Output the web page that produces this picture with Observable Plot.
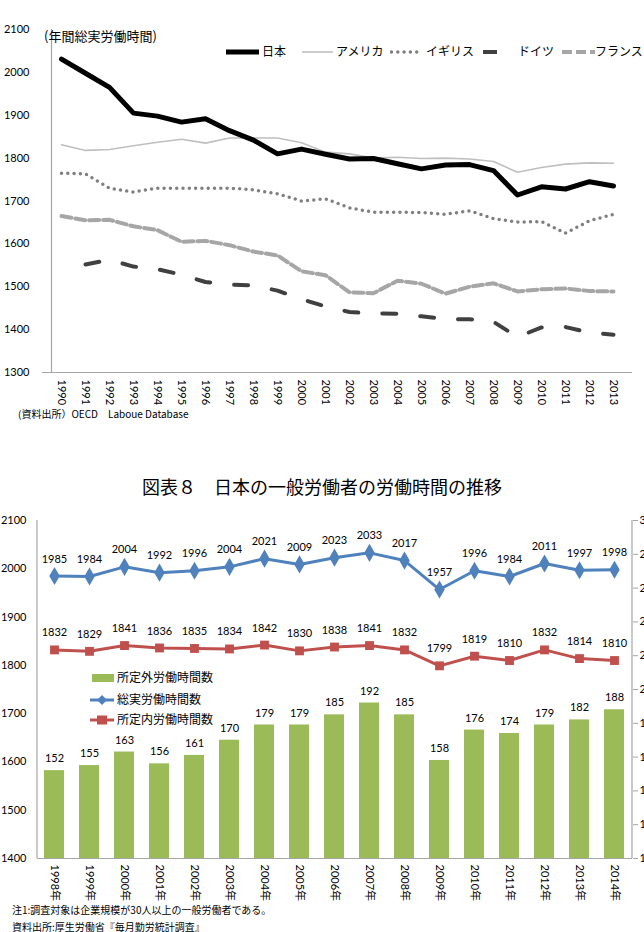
<!DOCTYPE html>
<html><head><meta charset="utf-8">
<script src="https://cdn.jsdelivr.net/npm/d3@7"></script>
<script src="https://cdn.jsdelivr.net/npm/@observablehq/plot@0.6"></script>
<style>
html,body{margin:0;padding:0;background:#fff;}
body{width:644px;height:932px;overflow:hidden;position:relative;font-family:"Noto Sans CJK JP","Noto Sans",sans-serif;color:#000;}
.abs{position:absolute;white-space:nowrap;line-height:1;}
.abs svg{display:block;}
</style></head><body>
<div id="chart1" class="abs" style="left:0;top:0"></div>
<div id="chart2" class="abs" style="left:0;top:500px"></div>
<div id="overlay"></div>
<script>
// ---------- Chart 1 data (OECD annual hours) ----------
const years1 = [1990,1991,1992,1993,1994,1995,1996,1997,1998,1999,2000,2001,2002,2003,2004,2005,2006,2007,2008,2009,2010,2011,2012,2013];
const japan   = [2031,1998,1965,1905,1898,1884,1892,1864,1842,1810,1821,1809,1798,1799,1787,1775,1784,1785,1771,1714,1733,1728,1745,1735];
const usa     = [1831,1818,1820,1829,1837,1844,1835,1847,1847,1847,1836,1814,1810,1800,1802,1799,1800,1798,1792,1767,1778,1786,1789,1788];
const uk      = [1765,1763,1730,1721,1730,1730,1730,1730,1726,1717,1700,1705,1684,1674,1674,1673,1669,1677,1659,1651,1652,1625,1654,1669];
const germany = [null,1552,1563,1547,1541,1528,1511,1505,1503,1491,1471,1454,1441,1438,1437,1431,1425,1424,1418,1383,1405,1406,1393,1388];
const france  = [1665,1655,1656,1641,1632,1605,1607,1597,1582,1573,1536,1527,1487,1485,1514,1507,1484,1500,1508,1489,1494,1496,1490,1489];
const yTicks1 = [1300,1400,1500,1600,1700,1800,1900,2000,2100];
const countryNames = ["日本","アメリカ","イギリス","ドイツ","フランス"];

// ---------- Chart 2 data (Japan, general workers) ----------
const cats2 = ["1998年","1999年","2000年","2001年","2002年","2003年","2004年","2005年","2006年","2007年","2008年","2009年","2010年","2011年","2012年","2013年","2014年"];
const overtime  = [152,155,163,156,161,170,179,179,185,192,185,158,176,174,179,182,188];
const total     = [1985,1984,2004,1992,1996,2004,2021,2009,2023,2033,2017,1957,1996,1984,2011,1997,1998];
const scheduled = [1832,1829,1841,1836,1835,1834,1842,1830,1838,1841,1832,1799,1819,1810,1832,1814,1810];
const leftTicks2  = [1400,1500,1600,1700,1800,1900,2000,2100];
const rightTicks2 = [100,120,140,160,180,200,220,240,260,280,300];
const seriesNames2 = ["所定外労働時間数","総実労働時間数","所定内労働時間数"];

const rows = vals => years1.map((year,i)=>({year, value: vals[i]})).filter(d => d.value != null);

const font = "Lato, 'Noto Sans CJK JP', sans-serif";

const c1 = Plot.plot({
  width: 644, height: 410,
  marginLeft: 42, marginRight: 12, marginTop: 29, marginBottom: 38,
  style: {fontFamily: font, fontSize: "11px", background: "transparent", overflow: "visible", color: "#000"},
  x: {type: "point", domain: years1, padding: 0.4},
  y: {domain: [1300, 2100]},
  marks: [
    Plot.ruleY([1300], {stroke: "#a6a6a6", strokeWidth: 1.2}),
    Plot.ruleX([years1[0]], {stroke: "#a6a6a6", strokeWidth: 1.2, dx: -10, y1: 1300, y2: 2100}),
    Plot.axisY({ticks: yTicks1, tickSize: 0, tickPadding: 13, label: null, tickFormat: d => String(d)}),
    Plot.axisX({tickRotate: 90, tickSize: 0, tickPadding: 7, label: null, tickFormat: d => String(d)}),
    Plot.line(rows(france),  {x: "year", y: "value", stroke: "#a6a6a6", strokeWidth: 4, strokeDasharray: "10,4"}),
    Plot.line(rows(germany), {x: "year", y: "value", stroke: "#404040", strokeWidth: 4, strokeDasharray: "14,24"}),
    Plot.line(rows(uk),      {x: "year", y: "value", stroke: "#7f7f7f", strokeWidth: 3.5, strokeDasharray: "0,6.3", strokeLinecap: "round"}),
    Plot.line(rows(usa),     {x: "year", y: "value", stroke: "#bfbfbf", strokeWidth: 1.6}),
    Plot.line(rows(japan),   {x: "year", y: "value", stroke: "#000", strokeWidth: 5, strokeLinejoin: "round"})
  ]
});
document.getElementById("chart1").appendChild(c1);

const toLeft = v => 1400 + (v - 100) * 700 / 200;
const data2 = cats2.map((cat,i)=>({cat, overtime: overtime[i], total: total[i], scheduled: scheduled[i]}));

const c2 = Plot.plot({
  width: 644, height: 408,
  marginLeft: 37, marginRight: 12, marginTop: 20, marginBottom: 50,
  style: {fontFamily: font, fontSize: "11px", background: "transparent", overflow: "visible", color: "#000"},
  x: {type: "band", domain: cats2, paddingInner: 0.42, paddingOuter: 0.21},
  y: {domain: [1400, 2100]},
  marks: [
    Plot.barY(data2, {x: "cat", y1: 1400, y2: d => toLeft(d.overtime), fill: "#9BBB59"}),
    Plot.ruleY([1400], {stroke: "#a6a6a6", strokeWidth: 1.2}),
    Plot.ruleX([cats2[0]], {stroke: "#a6a6a6", strokeWidth: 1.2, dx: -17.5, y1: 1400, y2: 2100}),
    Plot.ruleX([cats2[cats2.length - 1]], {stroke: "#a6a6a6", strokeWidth: 1.2, dx: 17.5, y1: 1400, y2: 2100}),
    Plot.axisY({ticks: leftTicks2, tickSize: 0, tickPadding: 11, label: null, tickFormat: d => String(d)}),
    Plot.axisY({anchor: "right", ticks: rightTicks2.map(toLeft), tickSize: 5, tickPadding: 2, label: null, stroke: "#a6a6a6", fill: "#000", tickFormat: (d,i) => String(rightTicks2[i])}),
    Plot.axisX({tickRotate: 90, tickSize: 0, tickPadding: 6, label: null}),
    Plot.text(data2, {x: "cat", y: d => toLeft(d.overtime), text: d => String(d.overtime), dy: -12, fill: "#000"}),
    Plot.line(data2, {x: "cat", y: "total", stroke: "#4F81BD", strokeWidth: 3}),
    Plot.dot(data2, {x: "cat", y: "total", symbol: "diamond", r: 5.5, fill: "#4F81BD"}),
    Plot.text(data2, {x: "cat", y: "total", text: d => String(d.total), dy: -17, fill: "#000"}),
    Plot.line(data2, {x: "cat", y: "scheduled", stroke: "#C0504D", strokeWidth: 3}),
    Plot.dot(data2, {x: "cat", y: "scheduled", symbol: "square", r: 5, fill: "#C0504D"}),
    Plot.text(data2, {x: "cat", y: "scheduled", text: d => String(d.scheduled), dy: -17, fill: "#000"})
  ]
});
document.getElementById("chart2").appendChild(c2);

// ---------- texts, legends ----------
const ov = document.getElementById("overlay");
function addText(txt, left, top, size, extra="") {
  const d = document.createElement("div");
  d.className = "abs";
  d.style.cssText = `left:${left}px;top:${top}px;font-size:${size}px;${extra}`;
  d.textContent = txt;
  ov.appendChild(d);
  return d;
}
function addSwatch(svgInner, left, top, w, h) {
  const d = document.createElement("div");
  d.className = "abs";
  d.style.cssText = `left:${left}px;top:${top}px;`;
  d.innerHTML = `<svg width="${w}" height="${h}" viewBox="0 0 ${w} ${h}">${svgInner}</svg>`;
  ov.appendChild(d);
}
// Chart 1 header and legend
addText("(年間総実労働時間)", 44, 29, 13);
const lg1 = [
  {x:226, txt:262, svg:'<line x1="0" y1="5" x2="33" y2="5" stroke="#000" stroke-width="5"/>'},
  {x:302, txt:336, svg:'<line x1="0" y1="5" x2="31" y2="5" stroke="#bfbfbf" stroke-width="1.6"/>'},
  {x:390, txt:426, svg:'<line x1="1.5" y1="5" x2="33" y2="5" stroke="#7f7f7f" stroke-width="3.5" stroke-dasharray="0,6.3" stroke-linecap="round"/>'},
  {x:483, txt:518, svg:'<line x1="0" y1="5" x2="33" y2="5" stroke="#404040" stroke-width="4" stroke-dasharray="14,24"/>'},
  {x:562, txt:595, svg:'<line x1="0" y1="5" x2="33" y2="5" stroke="#a6a6a6" stroke-width="4" stroke-dasharray="10,4"/>'}
];
lg1.forEach((l,i) => {
  addSwatch(l.svg, l.x, 47, 34, 10);
  addText(countryNames[i], l.txt, 45, 12);
});
addText("(資料出所）OECD　Laboue Database", 18, 409, 10);

// Chart 2 title
addText("図表８　日本の一般労働者の労働時間の推移", 0, 477, 18, "width:644px;text-align:center;");
// Chart 2 legend
addSwatch('<rect x="0" y="0" width="22" height="8" fill="#9BBB59"/>', 92, 674, 22, 8);
addSwatch('<line x1="0" y1="6" x2="24" y2="6" stroke="#4F81BD" stroke-width="3"/><path d="M12,1 L17,6 L12,11 L7,6Z" fill="#4F81BD"/>', 90, 694, 24, 12);
addSwatch('<line x1="0" y1="6" x2="24" y2="6" stroke="#C0504D" stroke-width="3"/><rect x="7" y="1.5" width="10" height="9" fill="#C0504D"/>', 90, 714, 24, 12);
seriesNames2.forEach((n,i) => addText(n, 117, [671,693,713][i], 12));
// Chart 2 notes
addText("注1:調査対象は企業規模が30人以上の一般労働者である。", 12, 905, 10);
addText("資料出所:厚生労働省『毎月勤労統計調査』", 12, 922, 10);
</script>
</body></html>
